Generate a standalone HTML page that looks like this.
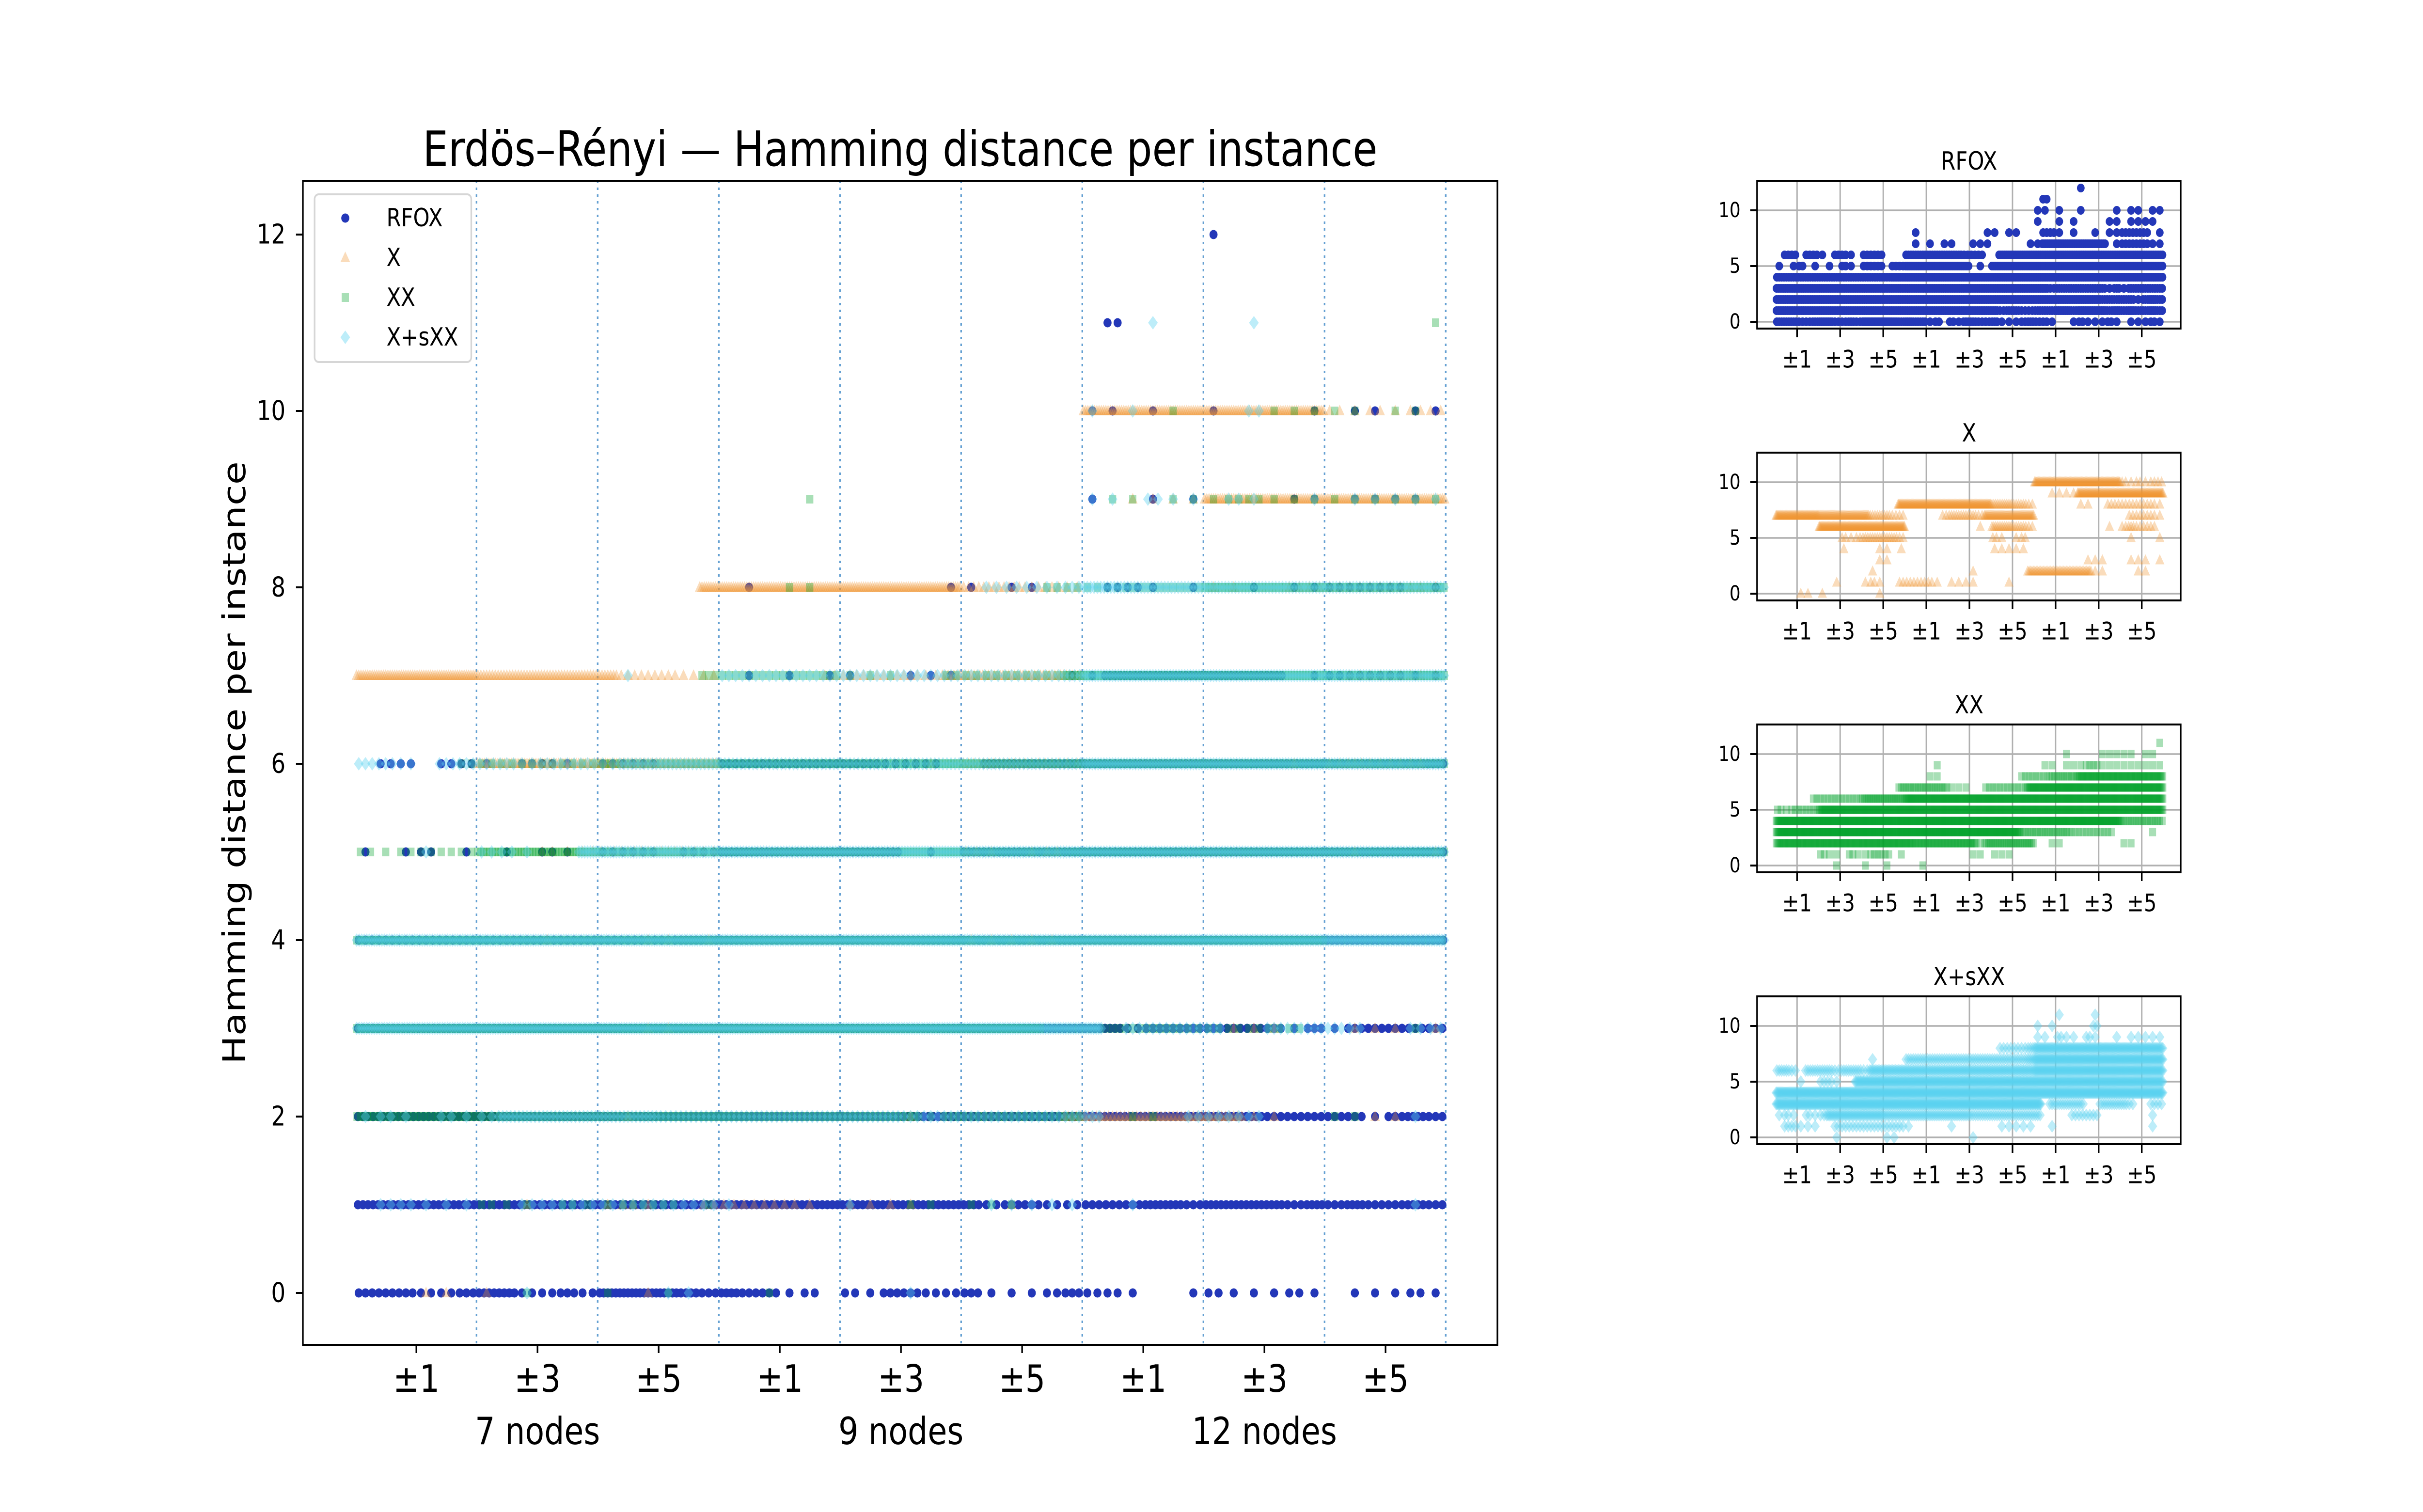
<!DOCTYPE html>
<html><head><meta charset="utf-8">
<style>
html,body{margin:0;padding:0;background:#fff;width:100vw;height:100vh;overflow:hidden;}
svg{display:block;position:absolute;left:0;top:0;width:100vw;height:100vh;}
text{font-family:"DejaVu Sans","Liberation Sans",sans-serif;fill:#000;}
</style></head>
<body>
<svg id="fig" xmlns="http://www.w3.org/2000/svg" width="100%" height="100%" viewBox="0 0 6000 3120" preserveAspectRatio="none">
<rect x="0" y="0" width="6000" height="3120" fill="#fff"/>
<g id="main"></g>
<g id="insets"></g>
</svg>
<script>
const groupTicks = ["±1","±3","±5","±1","±3","±5","±1","±3","±5"];
const groupNames = ["7 nodes","9 nodes","12 nodes"];
const yTicksMain = [0,2,4,6,8,10,12];
const yTicksInset = [0,5,10];
const seriesNames = ["RFOX","X","XX","X+sXX"];

const rfoxLevels = [
 "333223442232555543433120213322311123221001211121011121",
 "4".repeat(31)+"23322333443444434343343",
 "4".repeat(45)+"333331343",
 "4".repeat(38)+"2333333313133333",
 "3".repeat(16)+"4".repeat(38),
 "101201010210222022444444444010"+"4".repeat(24),
 "022022102210222000333333332220"+"0"+"4".repeat(23),
 [[19,1],[21,1],[23,1],[24,1],[27,1],[28,1],[29,1],[35,1],[36,1],[37,4],[38,4],[39,4],[40,4],[41,4],[42,4],[43,4],[44,4],[45,4],[47,1],[48,2],[49,2],[50,2],[51,2],[52,1],[53,1]],
 [[19,1],[29,1],[30,1],[32,1],[33,1],[37,2],[38,2],[39,1],[41,1],[44,1],[46,1],[47,1],[48,2],[49,2],[50,2],[51,2],[53,1]],
 [[36,1],[39,1],[41,1],[46,1],[47,1],[49,1],[50,1],[51,1],[52,1]],
 [[36,1],[37,1],[39,1],[42,1],[47,1],[49,1],[50,1],[52,1],[53,1]],
 [[37,2]],
 [[42,1]]
];
const xLevels = [
 [[3,1],[4,1],[6,1],[14,1]],
 [[8,1],[12,1],[13,2],[14,1],[17,2],[18,2],[19,2],[20,2],[21,2],[22,1],[24,1],[25,1],[26,1],[27,1],[32,1]],
 [[13,1],[27,1],[35,5],[36,5],[37,5],[38,5],[39,5],[40,5],[41,5],[42,5],[43,5],[44,1],[45,1],[50,1],[51,1]],
 [[14,1],[15,1],[43,1],[44,1],[45,1],[49,1],[50,1],[51,1],[53,1]],
 [[9,1],[14,1],[15,1],[17,1],[30,1],[31,1],[32,1],[33,1],[34,1]],
 [[9,2],[10,1],[11,2],[12,3],[13,3],[14,3],[15,3],[16,3],[17,2],[30,2],[31,1],[33,1],[34,2],[49,1],[53,1]],
 "000000"+"9".repeat(12)+"0".repeat(10)+"10"+"444332"+"0".repeat(10)+"10"+"23222"+"0",
 "999999"+"7".repeat(7)+"33322"+"00000"+"233332"+"7".repeat(7)+"0".repeat(13)+"22221",
 "0".repeat(17)+"9".repeat(13)+"444332"+"000000"+"11"+"00"+"22222221",
 "0".repeat(38)+"1111"+"9".repeat(12),
 "0".repeat(36)+"9".repeat(12)+"212122",
 [],
 []
];
const xxLevels = [
 [[8,1],[12,1],[15,1],[20,1]],
 [[6,2],[7,1],[8,1],[10,2],[11,1],[12,1],[13,2],[14,2],[15,2],[17,1],[27,1],[28,1],[30,1],[31,1],[32,1]],
 "6".repeat(19)+"5".repeat(9)+"1"+"4".repeat(7)+"00"+"11"+"0".repeat(8)+"11"+"0000",
 "8".repeat(34)+"3".repeat(7)+"2".repeat(6)+"00000"+"1"+"0",
 "8".repeat(48)+"333333",
 "212222"+"7".repeat(48),
 "00000"+"2".repeat(7)+"4".repeat(6)+"7".repeat(36),
 "0".repeat(17)+"3".repeat(7)+"111"+"00"+"222222"+"7".repeat(19),
 "0".repeat(21)+"11"+"0".repeat(11)+"2222"+"3333"+"6".repeat(12),
 [[22,1],[37,1],[38,1],[40,1],[41,1],[42,1],[43,2],[44,2],[45,1],[46,1],[47,1],[48,1],[49,1],[50,1],[51,1],[52,1],[53,1]],
 [[40,1],[45,1],[46,1],[47,1],[48,1],[49,1],[51,1],[52,1]],
 [[53,1]],
 []
];
const xsxxLevels = [
 [[8,1],[15,1],[16,1],[27,1]],
 [[1,2],[2,2],[3,1],[4,1],[5,1],[8,2],[9,2],[10,2],[11,2],[12,2],[13,2],[14,2],[15,2],[16,2],[17,2],[18,1],[24,1],[31,1],[32,1],[33,1],[34,1],[35,1],[38,1],[52,1]],
 "121"+"0"+"21"+"2"+"5".repeat(8)+"4".repeat(12)+"3".repeat(10)+"0000"+"2222"+"0".repeat(7)+"1"+"0",
 "8".repeat(37)+"0"+"33333"+"00"+"33332"+"00"+"22",
 "8".repeat(54),
 "000"+"1"+"00"+"221"+"00"+"7".repeat(43),
 "332033"+"332"+"3332"+"5".repeat(23)+"7".repeat(18),
 "0".repeat(13)+"1"+"0000"+"3".repeat(17)+"4"+"7".repeat(18),
 "0".repeat(31)+"2222"+"3"+"6".repeat(18),
 [[36,1],[37,1],[39,2],[40,1],[41,1],[43,2],[44,1],[47,1],[49,1],[50,1],[51,1],[52,1],[53,1]],
 [[36,1],[38,1],[44,2]],
 [[39,1],[44,1]],
 []
];

const NS = "http://www.w3.org/2000/svg";
const NB = 54;
function mk(tag, attrs, parent){
  const e = document.createElementNS(NS, tag);
  for (const k in attrs) e.setAttribute(k, attrs[k]);
  parent.appendChild(e);
  return e;
}
function expand(spec){
  if (typeof spec === "string") return spec.split("").map(Number);
  const a = new Array(NB).fill(0);
  spec.forEach(p => { a[p[0]] = p[1]; });
  return a;
}
const styles = [
  {shape:"circle", fill:"#2337b8", op:1},
  {shape:"tri", fill:"rgb(240,150,50)", op:0.33},
  {shape:"sq", fill:"rgb(0,160,40)", op:0.34},
  {shape:"dia", fill:"rgb(90,210,240)", op:0.40}
];
const allLevels = [rfoxLevels, xLevels, xxLevels, xsxxLevels];

function marker(shape, x, y, s, fill, op, parent){
  let e;
  if (shape === "circle") e = mk("ellipse",{cx:x.toFixed(1),cy:y.toFixed(1),rx:10*s,ry:9.5*s,fill:fill,"fill-opacity":op},parent);
  else if (shape === "tri") e = mk("polygon",{points:`${x},${y-13*s} ${x-12*s},${y+9*s} ${x+12*s},${y+9*s}`,fill:fill,"fill-opacity":op},parent);
  else if (shape === "sq") e = mk("rect",{x:x-9*s,y:y-9*s,width:18*s,height:18*s,fill:fill,"fill-opacity":op},parent);
  else e = mk("polygon",{points:`${x},${y-14*s} ${x+12*s},${y} ${x},${y+14*s} ${x-12*s},${y}`,fill:fill,"fill-opacity":op},parent);
  return e;
}

function drawSeries(si, g, xOf, yOf, s){
  const st = styles[si];
  const lv = allLevels[si];
  const sg = mk("g",{},g);
  
  
  lv.forEach((spec, level) => {
    const counts = expand(spec);
    counts.forEach((c, b) => {
      for (let i = 0; i < c; i++) {
        const u = b + (i + 0.5) / c;
        const m = marker(st.shape, xOf(u), yOf(level), s, st.fill, st.op, sg);
        
        
      }
    });
  });
}

const main = document.getElementById("main");
const M = {l:750, r:3708, t:373, b:2775};
const mx = u => 880 + 50*u;
const my = v => 2668 - 182*v;
mk("rect",{x:M.l,y:M.t,width:M.r-M.l,height:M.b-M.t,fill:"#fff"},main);
for (let k = 0; k < 9; k++){
  const x = 1180 + 300*k;
  const d = mk("line",{x1:x,x2:x,y1:M.t,y2:M.b,stroke:"rgb(100,160,210)","stroke-width":4,"stroke-dasharray":"5 9"},main);
  
  
}
for (let si = 0; si < 4; si++) drawSeries(si, main, mx, my, 1);
const sp = mk("rect",{x:M.l,y:M.t,width:M.r-M.l,height:M.b-M.t,fill:"none",stroke:"#000","stroke-width":4},main);


yTicksMain.forEach(v => {
  const y = my(v);
  mk("line",{x1:M.l-17,x2:M.l,y1:y,y2:y,stroke:"#000","stroke-width":4},main);
  const t = mk("text",{x:707,y:y,"font-size":56,"text-anchor":"end","dominant-baseline":"central"},main);
  t.textContent = v;
  
  
});
groupTicks.forEach((lab, k) => {
  const x = 1031 + 300*k;
  mk("line",{x1:x,x2:x,y1:M.b,y2:M.b+17,stroke:"#000","stroke-width":4},main);
  const t = mk("text",{x:x,y:2845,"font-size":78,"text-anchor":"middle","dominant-baseline":"central"},main);
  t.textContent = lab;
  
  
});
groupNames.forEach((lab, k) => {
  const x = 1331 + 900*k;
  const t = mk("text",{x:x,y:2953,"font-size":78,"text-anchor":"middle","dominant-baseline":"central"},main);
  t.textContent = lab;
  
  
});
const yl = mk("text",{x:0,y:0,"font-size":78,"text-anchor":"middle","dominant-baseline":"central",transform:"translate(580,1574) rotate(-90)"},main);
yl.textContent = "Hamming distance per instance";


const tt = mk("text",{x:2229,y:308,"font-size":100,"text-anchor":"middle","dominant-baseline":"central"},main);
tt.textContent = "Erdös–Rényi — Hamming distance per instance";


const lg = mk("g",{},main);


mk("rect",{x:779,y:401,width:388,height:346,rx:10,fill:"#fff","fill-opacity":0.8,stroke:"#d6d6d6","stroke-width":4},lg);
seriesNames.forEach((nm, i) => {
  const y = 450 + 82*i;
  const st = styles[i];
  const e = mk("g",{},lg);
  
  
  marker(st.shape, 855, y, 1, st.fill, st.op, e);
  const t = mk("text",{x:957,y:y,"font-size":52,"dominant-baseline":"central"},e);
  t.textContent = nm;
});

const insets = document.getElementById("insets");
const tops = [373, 934, 1495, 2056];
const IL = 4351, IR = 5400, IH = 305;
const ix = u => 4397 + 17.78*u;
tops.forEach((top, si) => {
  const g = mk("g",{},insets);
  
  
  const iy = v => top + 291 - 23*v;
  mk("rect",{x:IL,y:top,width:IR-IL,height:IH,fill:"#fff"},g);
  groupTicks.forEach((lab, k) => {
    const x = 4450 + 106.7*k;
    mk("line",{x1:x,x2:x,y1:top,y2:top+IH,stroke:"#b0b0b0","stroke-width":3.5},g);
  });
  yTicksInset.forEach(v => {
    mk("line",{x1:IL,x2:IR,y1:iy(v),y2:iy(v),stroke:"#b0b0b0","stroke-width":3.5},g);
  });
  drawSeries(si, g, ix, iy, 0.95);
  mk("rect",{x:IL,y:top,width:IR-IL,height:IH,fill:"none",stroke:"#000","stroke-width":4},g);
  yTicksInset.forEach(v => {
    const y = iy(v);
    mk("line",{x1:IL-17,x2:IL,y1:y,y2:y,stroke:"#000","stroke-width":4},g);
    const t = mk("text",{x:4310,y:y,"font-size":43,"text-anchor":"end","dominant-baseline":"central"},g);
    t.textContent = v;
    
    
  });
  groupTicks.forEach((lab, k) => {
    const x = 4450 + 106.7*k;
    mk("line",{x1:x,x2:x,y1:top+IH,y2:top+IH+18,stroke:"#000","stroke-width":4},g);
    const t = mk("text",{x:x,y:top+IH+63,"font-size":50,"text-anchor":"middle","dominant-baseline":"central"},g);
    t.textContent = lab;
    
    
  });
  const ti = mk("text",{x:4876,y:top-40,"font-size":52,"text-anchor":"middle","dominant-baseline":"central"},g);
  ti.textContent = seriesNames[si];
  
  
});
</script>
</body></html>
